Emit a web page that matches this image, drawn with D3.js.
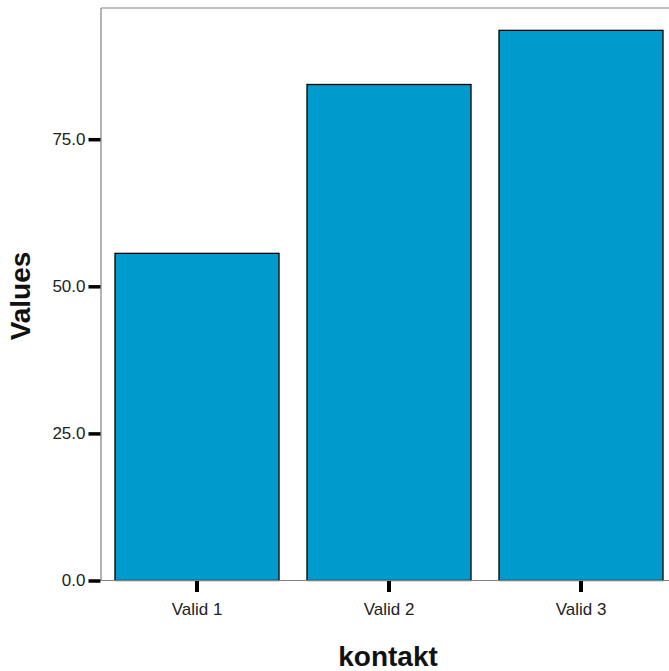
<!DOCTYPE html>
<html>
<head>
<meta charset="utf-8">
<script src="https://cdn.jsdelivr.net/npm/d3@7"></script>
<style>
  html, body { margin: 0; padding: 0; background: #fff; }
  svg { display: block; }
</style>
</head>
<body>
<svg id="chart" width="669" height="671"></svg>
<script>
const categories = ["Valid 1", "Valid 2", "Valid 3"];
const values = [55.6, 84.3, 93.5];
const yTicks = [0, 25, 50, 75];
const yTickLabels = ["0.0", "25.0", "50.0", "75.0"];
const xTitle = "kontakt";
const yTitle = "Values";

const svg = d3.select("#chart");
const pLeft = 101, pTop = 8, pBottom = 580.5, pRight = 677;
const font = "'Liberation Sans', Arial, sans-serif";

const x = d3.scaleBand().domain(categories).range([pLeft, pRight])
  .paddingInner(28 / 192).paddingOuter(14 / 192);
const y = d3.scaleLinear().domain([0, 97.3]).range([pBottom, pTop]);

// frame: top and left lines
svg.append("line").attr("x1", pLeft).attr("x2", 669).attr("y1", pTop).attr("y2", pTop)
  .attr("stroke", "#808080").attr("stroke-width", 1.2);
svg.append("line").attr("x1", pLeft).attr("x2", pLeft).attr("y1", pTop).attr("y2", pBottom)
  .attr("stroke", "#808080").attr("stroke-width", 1.2);

// bars
svg.append("g").selectAll("rect").data(categories).join("rect")
  .attr("x", d => x(d))
  .attr("width", x.bandwidth())
  .attr("y", (d, i) => y(values[i]))
  .attr("height", (d, i) => y(0) - y(values[i]))
  .attr("fill", "#009BCD")
  .attr("stroke", "#000")
  .attr("stroke-width", 1.3);

// bottom axis line
svg.append("line").attr("x1", pLeft).attr("x2", 669).attr("y1", pBottom).attr("y2", pBottom)
  .attr("stroke", "#808080").attr("stroke-width", 1.2);

// y axis
const yAxis = d3.axisLeft(y).tickValues(yTicks)
  .tickFormat((d, i) => yTickLabels[i]).tickSize(12).tickPadding(3);
const gy = svg.append("g").attr("transform", `translate(${pLeft - 0.5},0)`).call(yAxis);
gy.select(".domain").remove();
gy.selectAll(".tick line").attr("stroke", "#000").attr("stroke-width", 3.5);
gy.selectAll(".tick text").attr("font-family", font).attr("font-size", 17).attr("fill", "#222");

// x axis
const xAxis = d3.axisBottom(x).tickSize(11).tickPadding(11);
const gx = svg.append("g").attr("transform", `translate(0,${pBottom + 0.5})`).call(xAxis);
gx.select(".domain").remove();
gx.selectAll(".tick line").attr("stroke", "#000").attr("stroke-width", 4);
gx.selectAll(".tick text").attr("font-family", font).attr("font-size", 17).attr("fill", "#222");

// titles
svg.append("text").attr("x", (pLeft + 676) / 2 - 0.5).attr("y", 666)
  .attr("text-anchor", "middle").attr("font-family", font)
  .attr("font-weight", "bold").attr("font-size", 28).attr("fill", "#111")
  .text(xTitle);
svg.append("text").attr("transform", "translate(30,296) rotate(-90)")
  .attr("text-anchor", "middle").attr("font-family", font)
  .attr("font-weight", "bold").attr("font-size", 28).attr("fill", "#111")
  .text(yTitle);
</script>
</body>
</html>
